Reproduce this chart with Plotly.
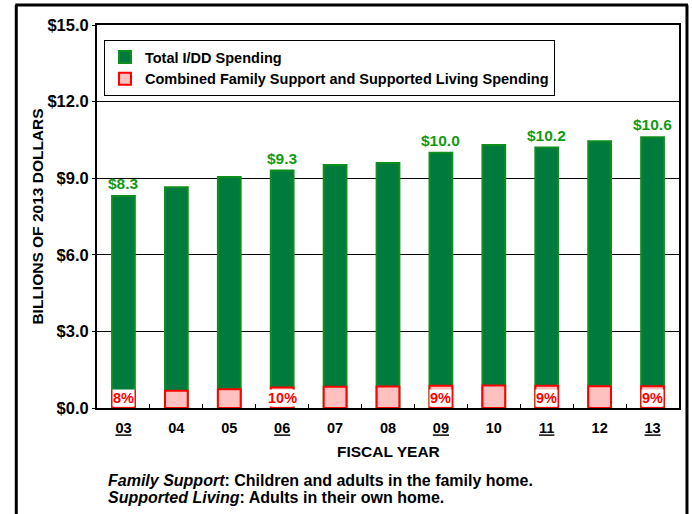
import plotly.graph_objects as go

years = ["03", "04", "05", "06", "07", "08", "09", "10", "11", "12", "13"]
underlined = ["03", "06", "09", "11", "13"]
total_spending = [8.3, 8.65, 9.05, 9.3, 9.52, 9.6, 10.0, 10.3, 10.2, 10.45, 10.6]
combined_spending = [0.67, 0.68, 0.73, 0.80, 0.83, 0.84, 0.87, 0.88, 0.87, 0.85, 0.85]
value_label_years = ["03", "06", "09", "11", "13"]
value_labels = ["$8.3", "$9.3", "$10.0", "$10.2", "$10.6"]
pct_label_years = ["03", "06", "09", "11", "13"]
pct_labels = ["8%", "10%", "9%", "9%", "9%"]
y_ticks = [0, 3, 6, 9, 12, 15]
footer_lines = [
    "<i>Family Support</i>: Children and adults in the family home.",
    "<i>Supported Living</i>: Adults in their own home.",
]

FONT = "Liberation Sans, Arial, sans-serif"
GREEN_FILL = "#007A3D"
GREEN_LINE = "#0C8F1C"
GREEN_TEXT = "#139A13"

fig = go.Figure()
fig.add_trace(go.Bar(
    x=years, y=total_spending, name="Total I/DD Spending",
    marker=dict(color=GREEN_FILL, line=dict(color=GREEN_LINE, width=2)),
    width=0.43,
))
fig.add_trace(go.Bar(
    x=years, y=combined_spending,
    name="Combined Family Support and Supported Living Spending",
    marker=dict(color="#FFC0C0", line=dict(color="#FF0000", width=2)),
    width=0.43,
))

L, R, T, B = 97, 12, 25, 106
PW, PH = 693 - L - R, 514 - T - B

def px_x(px):
    return (px - L) / PW

def px_y(py):
    return (514 - B - py) / PH

annotations = []
for yr, lab in zip(value_label_years, value_labels):
    i = years.index(yr)
    annotations.append(dict(
        x=i, y=total_spending[i], xref="x", yref="y", text=lab, showarrow=False,
        yanchor="bottom", yshift=2,
        font=dict(family=FONT, size=15.5, color=GREEN_TEXT, weight="bold"),
    ))
for yr, lab in zip(pct_label_years, pct_labels):
    i = years.index(yr)
    annotations.append(dict(
        x=i, y=0, xref="x", yref="y", text=lab, showarrow=False,
        yanchor="bottom", yshift=1, bgcolor="white", borderpad=0,
        font=dict(family=FONT, size=14.5, color="#FF0000", weight="bold"),
    ))
annotations.append(dict(
    x=0.5, y=px_y(451), xref="paper", yref="paper", text="FISCAL YEAR",
    showarrow=False, xanchor="center", yanchor="middle",
    font=dict(family=FONT, size=15.5, color="black", weight="bold"),
))
for k, line in enumerate(footer_lines):
    annotations.append(dict(
        x=px_x(106), y=px_y(480 + 17 * k), xref="paper", yref="paper",
        text=line, showarrow=False, xanchor="left", yanchor="middle",
        align="left",
        font=dict(family=FONT, size=16, color="black", weight="bold"),
    ))

shapes = [
    dict(type="line", xref="paper", yref="paper", x0=px_x(16), x1=px_x(16),
         y0=px_y(5), y1=px_y(530), line=dict(color="black", width=3)),
    dict(type="line", xref="paper", yref="paper", x0=px_x(15), x1=px_x(690),
         y0=px_y(5), y1=px_y(5), line=dict(color="black", width=3)),
    dict(type="line", xref="paper", yref="paper", x0=px_x(689), x1=px_x(689),
         y0=px_y(5), y1=px_y(530), line=dict(color="black", width=3)),
]

fig.update_layout(
    width=693, height=514,
    margin=dict(l=L, r=R, t=T, b=B),
    paper_bgcolor="white", plot_bgcolor="white",
    barmode="overlay", bargap=0.56,
    font=dict(family=FONT, color="black"),
    showlegend=True,
    legend=dict(
        x=px_x(104), y=px_y(40), xanchor="left", yanchor="top",
        bgcolor="white", bordercolor="black", borderwidth=1,
        font=dict(family=FONT, size=14.5, color="black", weight="bold"),
        tracegroupgap=0, itemwidth=30,
    ),
    annotations=annotations,
    shapes=shapes,
)

fig.update_xaxes(
    type="category", categoryorder="array", categoryarray=years,
    range=[-0.5, len(years) - 0.5],
    tickmode="array", tickvals=years,
    ticktext=[f"<u>{y}</u>" if y in underlined else y for y in years],
    tickfont=dict(family=FONT, size=14.5, color="black", weight="bold"),
    ticks="inside", tickson="boundaries", ticklen=4, tickcolor="black",
    showline=True, linecolor="black", linewidth=2, mirror=True,
    showgrid=False, ticklabelstandoff=6,
)
fig.update_yaxes(
    range=[0, 15], tickmode="array", tickvals=y_ticks,
    ticktext=[f"${v:.1f}" for v in y_ticks],
    tickfont=dict(family=FONT, size=16.5, color="black", weight="bold"),
    ticks="outside", ticklen=3, tickcolor="black",
    showline=True, linecolor="black", linewidth=2, mirror=True,
    showgrid=True, gridcolor="black", gridwidth=1,
    zeroline=False,
    title=dict(text="BILLIONS OF 2013 DOLLARS", standoff=0,
               font=dict(family=FONT, size=15.5, color="black", weight="bold")),
)

fig.write_html("out.html", config={"displayModeBar": False},
               post_script="document.body.style.margin='0px';")
